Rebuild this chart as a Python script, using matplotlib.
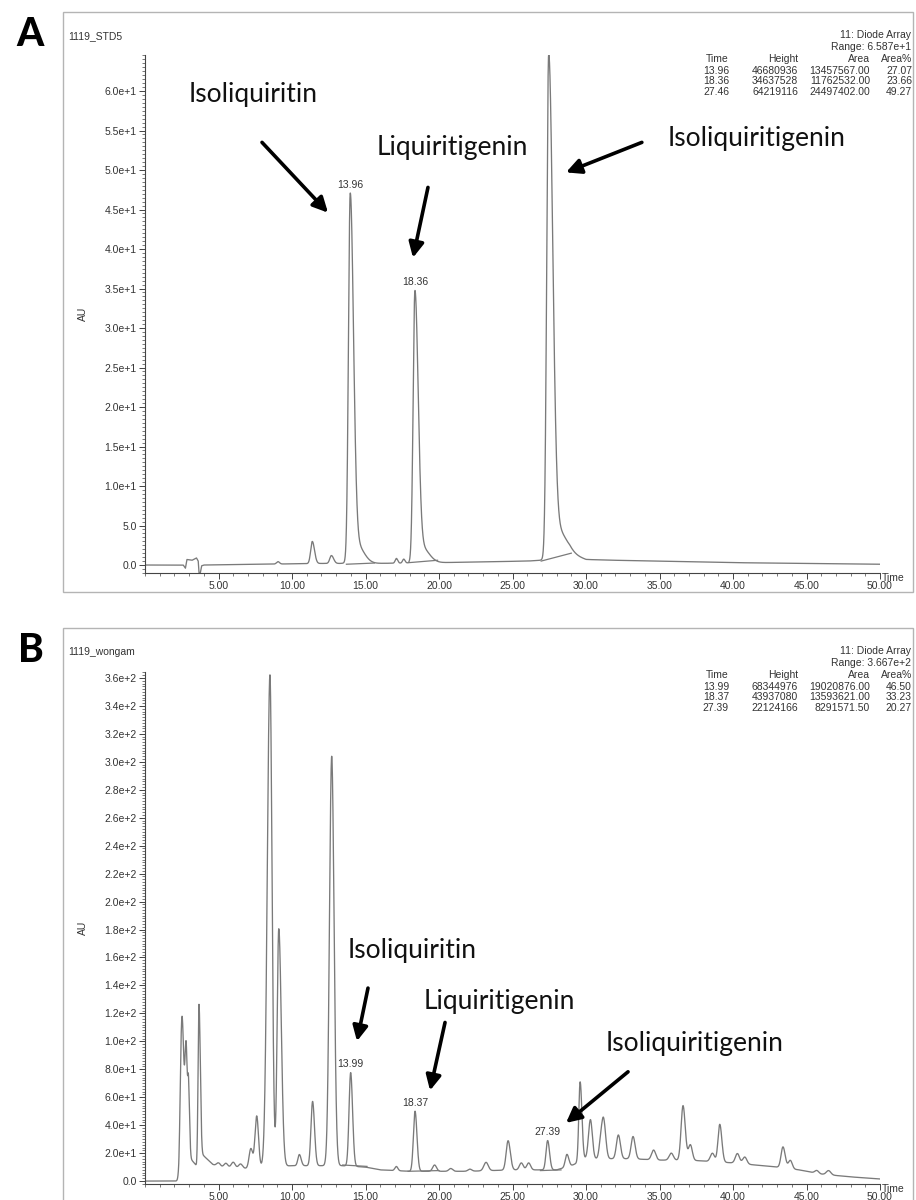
import numpy as np
import matplotlib
matplotlib.use("Agg")
import matplotlib.pyplot as plt
from matplotlib.patches import Rectangle
from matplotlib.ticker import MultipleLocator, FixedLocator, FuncFormatter

# ---------------- data ----------------
# Panel A : standard mix 1119_STD5
a_base_t = [0, 2.6, 2.75, 2.85, 3.2, 3.5, 3.62, 3.7, 3.85, 4.0, 8, 12, 15.5, 20, 26, 27, 28.9, 30, 32, 40, 50]
a_base_v = [0, 0, -0.4, 0.7, 0.6, 0.9, 0.5, -1.6, -0.1, 0, 0.1, 0.2, 0.2, 0.3, 0.5, 0.6, 1.4, 0.7, 0.6, 0.3, 0.1]
a_peak_t = [9.05, 11.38, 12.68, 13.96, 14.35, 17.1, 17.6, 18.36, 18.8, 27.46, 28.0]
a_peak_h = [0.3, 2.8, 1.0, 45.8, 2.5, 0.6, 0.5, 33.8, 2.0, 62.8, 3.5]
a_peak_sl = [0.10, 0.11, 0.11, 0.12, 0.30, 0.08, 0.08, 0.12, 0.30, 0.13, 0.35]
a_peak_sr = [0.10, 0.15, 0.15, 0.22, 0.50, 0.09, 0.09, 0.22, 0.50, 0.27, 0.60]
a_integ = [[(13.7, 0.1), (15.6, 0.25)], [(17.95, 0.3), (19.9, 0.6)], [(26.95, 0.5), (29.0, 1.5)]]
a_labels = [(13.96, "13.96"), (18.36, "18.36"), (27.46, "27.46")]
a_table = [("13.96", "46680936", "13457567.00", "27.07"),
           ("18.36", "34637528", "11762532.00", "23.66"),
           ("27.46", "64219116", "24497402.00", "49.27")]
a_range = "Range: 6.587e+1"

# Panel B : sample 1119_wongam
b_base_t = [0, 2.3, 2.45, 3.1, 3.5, 3.75, 4.0, 4.6, 5.0, 7, 8, 10, 12, 13.4, 15, 16, 18, 22, 25, 28, 29, 30, 33, 35, 37, 40, 42, 43, 44.5, 46, 48, 50]
b_base_v = [0, 0, 18, 16, 11, 19, 18, 12, 10, 9, 10, 11, 11, 11, 10, 8, 7, 7, 8, 8, 11, 16, 16, 15, 15, 13, 11, 10, 8, 5, 3, 1.5]
b_peak_t = [2.52, 2.80, 2.96, 3.67, 5.0, 5.5, 6.0, 6.5, 7.2, 7.6, 8.5, 9.1, 10.5, 11.4, 12.7, 13.99,
            17.1, 18.37, 19.7, 20.8, 22.1, 23.2, 24.7, 25.6, 26.1, 27.39, 28.7, 29.6, 30.3, 31.0, 31.2,
            32.2, 33.2, 34.6, 35.8, 36.6, 37.1, 38.6, 39.1, 40.3, 40.8, 43.4, 43.9, 45.7, 46.5]
b_peak_h = [100, 76, 48, 110, 3, 3, 4, 3, 14, 37, 352, 170, 8, 46, 293, 67,
            3, 43, 4.5, 2, 1.5, 6, 21, 5, 5, 21, 9, 57, 28, 12, 27,
            17, 16, 7, 5, 39, 11, 6, 27, 7, 5, 15, 6, 2, 3]
b_peak_sl = [0.11, 0.08, 0.05, 0.06, 0.13, 0.13, 0.13, 0.13, 0.12, 0.12, 0.18, 0.11, 0.10, 0.11, 0.15, 0.11,
             0.10, 0.11, 0.13, 0.13, 0.13, 0.15, 0.13, 0.13, 0.13, 0.11, 0.11, 0.09, 0.13, 0.11, 0.12,
             0.13, 0.13, 0.14, 0.14, 0.13, 0.13, 0.14, 0.12, 0.14, 0.14, 0.13, 0.13, 0.13, 0.15]
b_peak_sr = [0.12, 0.08, 0.07, 0.09, 0.13, 0.13, 0.13, 0.13, 0.12, 0.12, 0.14, 0.17, 0.12, 0.13, 0.16, 0.13,
             0.10, 0.13, 0.13, 0.13, 0.13, 0.15, 0.15, 0.13, 0.13, 0.13, 0.13, 0.12, 0.13, 0.11, 0.14,
             0.14, 0.14, 0.14, 0.14, 0.15, 0.13, 0.14, 0.14, 0.14, 0.14, 0.15, 0.13, 0.13, 0.15]
b_integ = [[(13.45, 11.5), (15.1, 10.5)], [(17.9, 7.0), (20.0, 7.5)], [(26.9, 7.5), (28.3, 8.0)]]
b_labels = [(13.99, "13.99"), (18.37, "18.37"), (27.39, "27.39")]
b_table = [("13.99", "68344976", "19020876.00", "46.50"),
           ("18.37", "43937080", "13593621.00", "33.23"),
           ("27.39", "22124166", "8291571.50", "20.27")]
b_range = "Range: 3.667e+2"

compounds = ["Isoliquiritin", "Liquiritigenin", "Isoliquiritigenin"]

# ---------------- helpers ----------------
W, H = 916, 1200
fig = plt.figure(figsize=(W / 100, H / 100), dpi=100)
TXT = "#333333"
LINE = "#7a7a7a"
SMALL = dict(family=["Liberation Sans", "DejaVu Sans"], fontsize=7.5, color=TXT)


def fx(px):
    return px / W


def fy(py):
    return 1 - py / H


def trace(t, bt, bv, pt, ph, psl, psr):
    y = np.interp(t, bt, bv)
    for c, h, sl, sr in zip(pt, ph, psl, psr):
        s = np.where(t < c, sl, sr)
        y = y + h * np.exp(-0.5 * ((t - c) / s) ** 2)
    return y


def yfmt(v, pos):
    if abs(v) < 1e-9:
        return "0.0"
    e = int(np.floor(np.log10(abs(v))))
    if e == 0:
        return f"{v:.1f}"
    return f"{v / 10 ** e:.1f}e+{e}"


def panel(ax_rect, frame, ylim, ymajor, yminor, tr, integ, labels, name, table, rng,
          letter, letter_xy, ann, t):
    x0, y0, x1, y1 = frame
    fig.add_artist(Rectangle((fx(x0), fy(y1)), fx(x1) - fx(x0), fy(y0) - fy(y1),
                             transform=fig.transFigure, fill=False, ec="#b4b4b4", lw=1.0))
    fig.text(fx(letter_xy[0]), fy(letter_xy[1]), letter, family=["Lato", "DejaVu Sans"],
             fontweight="black", fontsize=28, ha="center", va="center", color="black")
    fig.text(fx(68), fy(frame[1] + 24), name, ha="left", va="center", **SMALL)

    ax = fig.add_axes(ax_rect)
    ax.plot(t, tr, color=LINE, lw=0.95)
    for seg in integ:
        ax.plot([seg[0][0], seg[1][0]], [seg[0][1], seg[1][1]], color=LINE, lw=0.9)
    ax.set_xlim(0, 50)
    ax.set_ylim(*ylim)
    for s in ["top", "right"]:
        ax.spines[s].set_visible(False)
    for s in ["left", "bottom"]:
        ax.spines[s].set_color("#444444")
        ax.spines[s].set_linewidth(0.8)
    ax.xaxis.set_major_locator(FixedLocator(np.arange(5, 51, 5)))
    ax.xaxis.set_major_formatter(FuncFormatter(lambda v, p: f"{v:.2f}"))
    ax.xaxis.set_minor_locator(MultipleLocator(1))
    ax.yaxis.set_major_locator(MultipleLocator(ymajor))
    ax.yaxis.set_minor_locator(MultipleLocator(yminor))
    ax.yaxis.set_major_formatter(FuncFormatter(yfmt))
    ax.tick_params(axis="both", which="major", labelsize=7.5, labelcolor=TXT, color="#444444",
                   length=4, width=0.7, pad=2)
    ax.tick_params(axis="both", which="minor", color="#444444", length=2, width=0.5)
    for lab in ax.get_xticklabels() + ax.get_yticklabels():
        lab.set_family(["Liberation Sans", "DejaVu Sans"])
    ax.set_ylabel("AU", labelpad=12, **SMALL)
    ax.text(1.003, 0.0, "Time", transform=ax.transAxes, ha="left", va="top", **SMALL)

    for pt, lab in labels:
        i = np.argmin(np.abs(t - pt))
        apex = tr[max(i - 20, 0):i + 20].max()
        ax.annotate(lab, xy=(pt, apex), xytext=(0, 2.5), textcoords="offset points",
                    ha="center", va="bottom", **SMALL)

    for name_c, (txy, tail, head) in zip(compounds, ann):
        ax.text(txy[0], txy[1], name_c, family=["Lato", "DejaVu Sans"], fontsize=19,
                ha="center", va="center", color="#111111")
        ax.annotate("", xy=head, xytext=tail,
                    arrowprops=dict(arrowstyle="-|>,head_length=0.9,head_width=0.45",
                                    lw=2.6, color="black", shrinkA=0, shrinkB=0))

    ty = frame[1]
    fig.text(fx(911), fy(ty + 23), "11: Diode Array", ha="right", va="center", **SMALL)
    fig.text(fx(911), fy(ty + 35), rng, ha="right", va="center", **SMALL)
    cols = [729, 798, 870, 912]
    heads = ["Time", "Height", "Area", "Area%"]
    for cx, hd in zip(cols, heads):
        fig.text(fx(cx), fy(ty + 47), hd, ha="right", va="center", **SMALL)
    for r, row in enumerate(table):
        for cx, val in zip(cols, row):
            fig.text(fx(cx), fy(ty + 58.5 + 10.7 * r), val, ha="right", va="center", **SMALL)
    return ax


t = np.linspace(0, 50, 20001)
tra = trace(t, a_base_t, a_base_v, a_peak_t, a_peak_h, a_peak_sl, a_peak_sr)
trb = trace(t, b_base_t, b_base_v, b_peak_t, b_peak_h, b_peak_sl, b_peak_sr)

ann_a = [((7.35, 59.5), (7.96, 53.5), (12.45, 44.6)),
         ((20.9, 52.9), (19.25, 47.8), (18.23, 38.9)),
         ((41.6, 54.0), (33.8, 53.5), (28.64, 49.7))]
ann_b = [((18.2, 164.9), (15.17, 138.1), (14.42, 100.1)),
         ((24.08, 128.3), (20.41, 113.5), (19.39, 64.8)),
         ((37.41, 98.7), (32.86, 78.2), (28.64, 41.6))]

panel([fx(145), fy(573), fx(880) - fx(145), fy(55) - fy(573)], (63, 12, 913, 592),
      (-1.01, 64.56), 5, 0.5, tra, a_integ, a_labels, "1119_STD5", a_table, a_range,
      "A", (30, 34), ann_a, t)
panel([fx(145), fy(1184), fx(880) - fx(145), fy(672) - fy(1184)], (63, 628, 913, 1215),
      (-2.1, 364.3), 20, 2, trb, b_integ, b_labels, "1119_wongam", b_table, b_range,
      "B", (31, 650), ann_b, t)

fig.savefig("out.png", dpi=100)
